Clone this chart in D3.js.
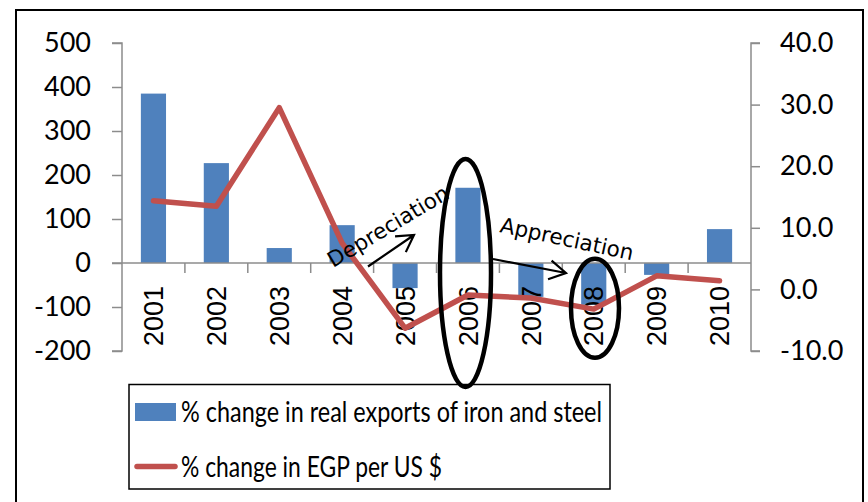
<!DOCTYPE html>
<html>
<head>
<meta charset="utf-8">
<script src="https://cdn.jsdelivr.net/npm/d3@7"></script>
<style>
  html, body { margin: 0; padding: 0; background: #fff; }
  svg { display: block; }
</style>
</head>
<body>
<svg id="chart" width="868" height="502"></svg>
<script>
// ---- data ----
const years = ["2001","2002","2003","2004","2005","2006","2007","2008","2009","2010"];
const exportsChange = [385, 227, 34, 86, -57, 171, -77, -95, -27, 77];
const egpChange = [14.4, 13.5, 29.5, 7.5, -6.3, -0.9, -1.4, -3.2, 2.2, 1.4];
const leftTicks = [500, 400, 300, 200, 100, 0, -100, -200];
const rightTicks = [40, 30, 20, 10, 0, -10];
const seriesNames = ["% change in real exports of iron and steel", "% change in EGP per US $"];
const annotations = ["Depreciation", "Appreciation"];

const svg = d3.select("#chart");
const plot = { left: 122, right: 751, top: 43, bottom: 351 };
const barColor = "#4F81BD", lineColor = "#C0504D", axisColor = "#8C8C8C";
const labelFont = "Lato, 'Open Sans', sans-serif";
const hy = s => s.replace("\u2212", "-");

// frame
svg.append("rect").attr("x", 16).attr("y", 10).attr("width", 847).attr("height", 520)
  .attr("fill", "#fff").attr("stroke", "#000").attr("stroke-width", 2);

const x = d3.scaleBand().domain(years).range([plot.left, plot.right])
  .paddingInner(0.6).paddingOuter(0.3);
const yL = d3.scaleLinear().domain([-200, 500]).range([plot.bottom, plot.top]);
const yR = d3.scaleLinear().domain([-10, 40]).range([plot.bottom, plot.top]);

// bars
svg.append("g").selectAll("rect").data(years).join("rect")
  .attr("x", d => x(d))
  .attr("width", x.bandwidth())
  .attr("y", (d, i) => yL(Math.max(0, exportsChange[i])))
  .attr("height", (d, i) => Math.abs(yL(exportsChange[i]) - yL(0)))
  .attr("fill", barColor);

// left axis
const fL = d3.format("d"), fR = d3.format(".1f");
const gL = svg.append("g").attr("transform", `translate(${plot.left},0)`)
  .call(d3.axisLeft(yL).tickValues(leftTicks).tickSize(10).tickPadding(21).tickFormat(d => hy(fL(d))));
gL.select(".domain").attr("stroke", axisColor).attr("stroke-width", 1.5).attr("d", `M-10,${plot.top}H0V${plot.bottom}H-10`);
gL.selectAll(".tick line").attr("stroke", axisColor).attr("stroke-width", 1.5);
gL.selectAll(".tick text").attr("font-family", labelFont).attr("font-size", 27).attr("fill", "#000");

// right axis
const gR = svg.append("g").attr("transform", `translate(${plot.right},0)`)
  .call(d3.axisRight(yR).tickValues(rightTicks).tickSize(9).tickPadding(20).tickFormat(d => hy(fR(d))));
gR.select(".domain").attr("stroke", axisColor).attr("stroke-width", 1.5).attr("d", `M9,${plot.top}H0V${plot.bottom}H9`);
gR.selectAll(".tick line").attr("stroke", axisColor).attr("stroke-width", 1.5);
gR.selectAll(".tick text").attr("font-family", labelFont).attr("font-size", 27).attr("fill", "#000");

// category axis at zero
const y0 = yL(0);
const boundaries = years.map((d, i) => plot.left + i * x.step()).concat([plot.right]);
svg.append("line").attr("x1", plot.left - 10).attr("x2", plot.right).attr("y1", y0).attr("y2", y0)
  .attr("stroke", axisColor).attr("stroke-width", 1.5);
svg.append("g").selectAll("line").data(boundaries.slice(1, -1)).join("line")
  .attr("x1", d => d).attr("x2", d => d).attr("y1", y0).attr("y2", y0 + 10)
  .attr("stroke", axisColor).attr("stroke-width", 1.5);
svg.append("g").selectAll("text").data(years).join("text")
  .attr("transform", d => `translate(${x(d) + x.bandwidth() / 2},${y0 + 23}) rotate(-90)`)
  .attr("text-anchor", "end").attr("dy", "0.36em")
  .attr("font-family", "'Liberation Sans', Arial, sans-serif").attr("font-size", 27).attr("fill", "#000")
  .text(d => d);

// line
const line = d3.line().x((d, i) => x(years[i]) + x.bandwidth() / 2).y(d => yR(d));
svg.append("path").datum(egpChange).attr("d", line).attr("fill", "none")
  .attr("stroke", lineColor).attr("stroke-width", 5.5).attr("stroke-linejoin", "round").attr("stroke-linecap", "round");

// legend
const lg = svg.append("g");
lg.append("rect").attr("x", 129).attr("y", 384.5).attr("width", 481).attr("height", 104.5)
  .attr("fill", "#fff").attr("stroke", "#000").attr("stroke-width", 1.5);
lg.append("rect").attr("x", 135).attr("y", 403).attr("width", 41).attr("height", 18).attr("fill", barColor);
lg.append("line").attr("x1", 137).attr("x2", 175).attr("y1", 466.5).attr("y2", 466.5)
  .attr("stroke", lineColor).attr("stroke-width", 5.5).attr("stroke-linecap", "round");
lg.append("text").attr("x", 181).attr("y", 412).attr("dy", "0.35em")
  .attr("font-family", labelFont).attr("font-size", 28.5).attr("textLength", 421).attr("lengthAdjust", "spacingAndGlyphs")
  .text(seriesNames[0]);
lg.append("text").attr("x", 181).attr("y", 467).attr("dy", "0.35em")
  .attr("font-family", labelFont).attr("font-size", 28.5).attr("textLength", 261).attr("lengthAdjust", "spacingAndGlyphs")
  .text(seriesNames[1]);

// annotations
const annFont = "'DejaVu Sans', sans-serif";
svg.append("text").attr("transform", "translate(333,268) rotate(-31)")
  .attr("font-family", annFont).attr("font-size", 21.5).attr("fill", "#000").text(annotations[0]);
svg.append("text").attr("transform", "translate(499,232) rotate(12)")
  .attr("font-family", annFont).attr("font-size", 21.5).attr("fill", "#000").text(annotations[1]);

function arrow(x1, y1, x2, y2) {
  const a = Math.atan2(y2 - y1, x2 - x1), L = 19, h = Math.PI / 6;
  const p1 = [x2 - L * Math.cos(a - h), y2 - L * Math.sin(a - h)];
  const p2 = [x2 - L * Math.cos(a + h), y2 - L * Math.sin(a + h)];
  svg.append("path").attr("d", `M${x1},${y1}L${x2},${y2}M${p1[0]},${p1[1]}L${x2},${y2}L${p2[0]},${p2[1]}`)
    .attr("fill", "none").attr("stroke", "#000").attr("stroke-width", 2.2);
}
arrow(368, 266.5, 414, 235);
arrow(493, 259, 566, 273);

svg.append("ellipse").attr("cx", 465.5).attr("cy", 273).attr("rx", 25.5).attr("ry", 114)
  .attr("fill", "none").attr("stroke", "#000").attr("stroke-width", 4.5);
svg.append("ellipse").attr("cx", 595).attr("cy", 308.3).attr("rx", 24).attr("ry", 49.5)
  .attr("fill", "none").attr("stroke", "#000").attr("stroke-width", 4.5);
</script>
</body>
</html>
